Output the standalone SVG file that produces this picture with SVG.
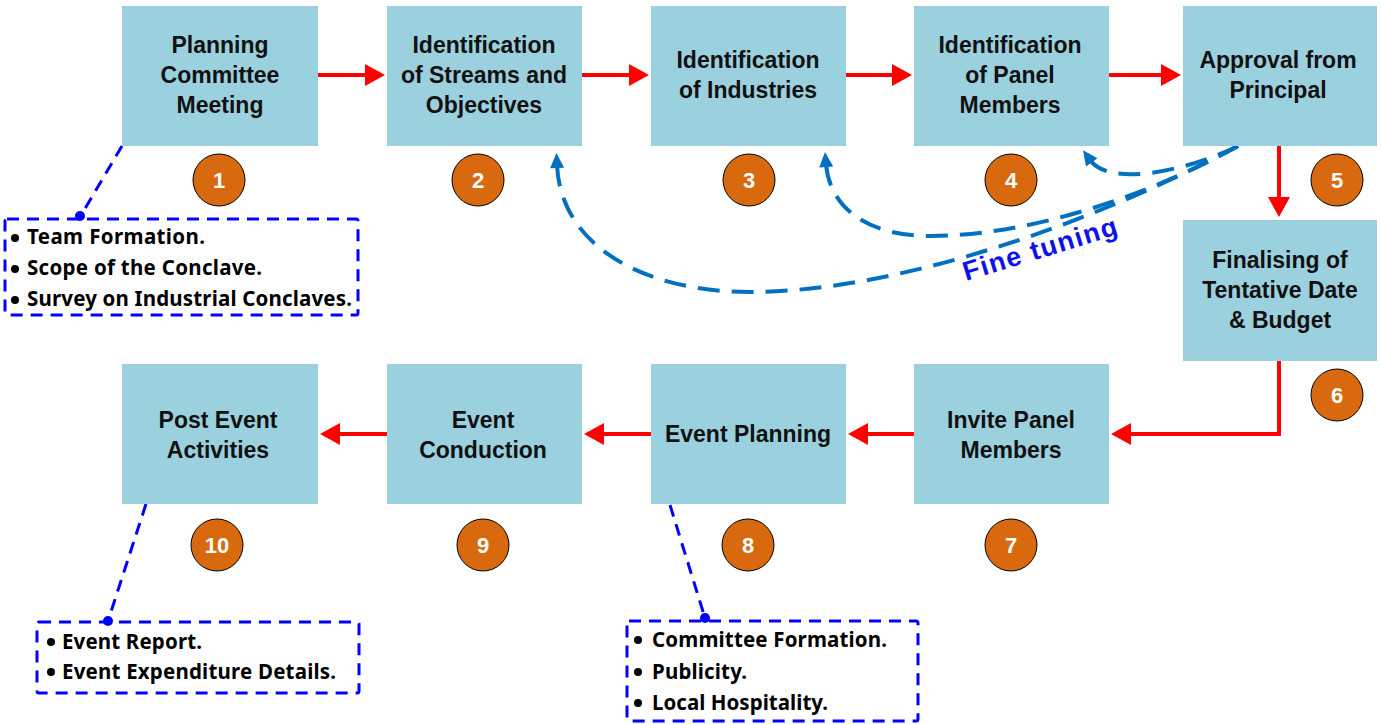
<svg xmlns="http://www.w3.org/2000/svg" width="1381" height="724" viewBox="0 0 1381 724">
<style>
.box{fill:#9BD0DE}
.lbl{font-family:"Liberation Sans",Arial,sans-serif;font-weight:bold;font-size:23px;fill:#111;text-anchor:middle}
.num{fill:#D9690E;stroke:#000;stroke-width:1}
.numt{font-family:"Liberation Sans",Arial,sans-serif;font-weight:bold;font-size:22px;fill:#fff;text-anchor:middle}
.flow{fill:none;stroke:#FF0000;stroke-width:4;marker-end:url(#redHead)}
.fine{fill:none;stroke:#0070C0;stroke-width:4;stroke-dasharray:22 12;marker-end:url(#blueHead)}
.call{fill:none;stroke:#0000FF;stroke-width:3;stroke-dasharray:12 8}
.dot{fill:#0000FF}
.bul{fill:#000}
.ct{font-family:"Noto Sans","Liberation Sans",sans-serif;font-weight:bold;font-size:20.5px;fill:#000}
.ftxt{font-family:"Liberation Sans",Arial,sans-serif;font-weight:bold;font-size:27px;fill:#1010EE}
</style>
<defs>
<marker id="redHead" markerUnits="userSpaceOnUse" markerWidth="20" markerHeight="22" refX="8" refY="11" orient="auto" overflow="visible">
<path d="M0,0 L20,11 L0,22 Z" fill="#FF0000"/>
</marker>
<marker id="blueHead" markerUnits="userSpaceOnUse" markerWidth="15" markerHeight="14" refX="3" refY="7" orient="auto" overflow="visible">
<path d="M0,0 L15,7 L0,14 Z" fill="#0070C0"/>
</marker>
</defs>
<rect width="1381" height="724" fill="#fff"/>

<g id="connectors">
<line class="flow" x1="318" y1="75" x2="373" y2="75"/>
<line class="flow" x1="582" y1="75" x2="637" y2="75"/>
<line class="flow" x1="846" y1="75" x2="900" y2="75"/>
<line class="flow" x1="1109" y1="75" x2="1169" y2="75"/>
<line class="flow" x1="1279" y1="146" x2="1279" y2="205"/>
<polyline class="flow" points="1279,361 1279,434 1123,434"/>
<line class="flow" x1="914" y1="434" x2="860" y2="434"/>
<line class="flow" x1="651" y1="434" x2="596" y2="434"/>
<line class="flow" x1="387" y1="434" x2="332" y2="434"/>
<path class="fine" d="M1238,146 C1190,170 1110,188 1090,160"/>
<path class="fine" d="M1238,146 C1150,195 1030,236 930,236 C870,236 830,210 826,164"/>
<path class="fine" d="M1238,146 C1100,220 900,292 750,292 C650,292 561,250 557,165"/>
<text class="ftxt" transform="translate(966,281) rotate(-17)" textLength="160">Fine tuning</text>
<line class="call" x1="122" y1="146" x2="80" y2="217"/>
<line class="call" x1="670" y1="505" x2="705" y2="618"/>
<line class="call" x1="146" y1="504" x2="108" y2="621"/>
</g>

<g id="n1">
<rect class="box" x="122" y="6" width="196" height="140"/>
<text class="lbl"><tspan x="220" y="53">Planning</tspan><tspan x="220" y="83">Committee</tspan><tspan x="220" y="113">Meeting</tspan></text>
<circle class="num" cx="219" cy="180" r="26"/><text class="numt" x="219" y="188">1</text>
</g>
<g id="n2">
<rect class="box" x="387" y="6" width="195" height="140"/>
<text class="lbl"><tspan x="484" y="53">Identification</tspan><tspan x="484" y="83">of Streams and</tspan><tspan x="484" y="113">Objectives</tspan></text>
<circle class="num" cx="478" cy="180" r="26"/><text class="numt" x="478" y="188">2</text>
</g>
<g id="n3">
<rect class="box" x="651" y="6" width="195" height="140"/>
<text class="lbl"><tspan x="748" y="68">Identification</tspan><tspan x="748" y="98">of Industries</tspan></text>
<circle class="num" cx="749" cy="180" r="26"/><text class="numt" x="749" y="188">3</text>
</g>
<g id="n4">
<rect class="box" x="914" y="6" width="195" height="140"/>
<text class="lbl"><tspan x="1010" y="53">Identification</tspan><tspan x="1010" y="83">of Panel</tspan><tspan x="1010" y="113">Members</tspan></text>
<circle class="num" cx="1011" cy="180" r="26"/><text class="numt" x="1011" y="188">4</text>
</g>
<g id="n5">
<rect class="box" x="1183" y="6" width="194" height="140"/>
<text class="lbl"><tspan x="1278" y="68">Approval from</tspan><tspan x="1278" y="98">Principal</tspan></text>
<circle class="num" cx="1337" cy="180" r="26"/><text class="numt" x="1337" y="188">5</text>
</g>
<g id="n6">
<rect class="box" x="1183" y="220" width="194" height="141"/>
<text class="lbl"><tspan x="1280" y="268">Finalising of</tspan><tspan x="1280" y="298">Tentative Date</tspan><tspan x="1280" y="328">&amp; Budget</tspan></text>
<circle class="num" cx="1337" cy="395" r="26"/><text class="numt" x="1337" y="403">6</text>
</g>
<g id="n7">
<rect class="box" x="914" y="364" width="195" height="140"/>
<text class="lbl"><tspan x="1011" y="428">Invite Panel</tspan><tspan x="1011" y="458">Members</tspan></text>
<circle class="num" cx="1011" cy="545" r="26"/><text class="numt" x="1011" y="553">7</text>
</g>
<g id="n8">
<rect class="box" x="651" y="364" width="195" height="140"/>
<text class="lbl"><tspan x="748" y="442">Event Planning</tspan></text>
<circle class="num" cx="748" cy="545" r="26"/><text class="numt" x="748" y="553">8</text>
</g>
<g id="n9">
<rect class="box" x="387" y="364" width="195" height="140"/>
<text class="lbl"><tspan x="483" y="428">Event</tspan><tspan x="483" y="458">Conduction</tspan></text>
<circle class="num" cx="483" cy="545" r="26"/><text class="numt" x="483" y="553">9</text>
</g>
<g id="n10">
<rect class="box" x="122" y="364" width="196" height="140"/>
<text class="lbl"><tspan x="218" y="428">Post Event</tspan><tspan x="218" y="458">Activities</tspan></text>
<circle class="num" cx="217" cy="545" r="26"/><text class="numt" x="217" y="553">10</text>
</g>

<g id="note1">
<rect class="call" x="5" y="219" width="353" height="96" rx="2"/>
<circle class="dot" cx="80" cy="216" r="5"/>
<circle class="bul" cx="15" cy="238" r="4"/><text class="ct" x="27" y="244" textLength="178">Team Formation.</text>
<circle class="bul" cx="15" cy="269" r="4"/><text class="ct" x="27" y="275" textLength="235">Scope of the Conclave.</text>
<circle class="bul" cx="15" cy="300" r="4"/><text class="ct" x="27" y="306" textLength="325">Survey on Industrial Conclaves.</text>
</g>
<g id="note8">
<rect class="call" x="627" y="621" width="291" height="100" rx="2"/>
<circle class="dot" cx="705" cy="618" r="5"/>
<circle class="bul" cx="638" cy="640" r="4"/><text class="ct" x="652" y="647" textLength="235">Committee Formation.</text>
<circle class="bul" cx="638" cy="672" r="4"/><text class="ct" x="652" y="679" textLength="95">Publicity.</text>
<circle class="bul" cx="638" cy="703" r="4"/><text class="ct" x="652" y="710" textLength="176">Local Hospitality.</text>
</g>
<g id="note10">
<rect class="call" x="37" y="622" width="322" height="71" rx="2"/>
<circle class="dot" cx="108" cy="621" r="5"/>
<circle class="bul" cx="51" cy="642" r="4"/><text class="ct" x="62" y="649" textLength="140">Event Report.</text>
<circle class="bul" cx="51" cy="672" r="4"/><text class="ct" x="62" y="679" textLength="274">Event Expenditure Details.</text>
</g>
</svg>
